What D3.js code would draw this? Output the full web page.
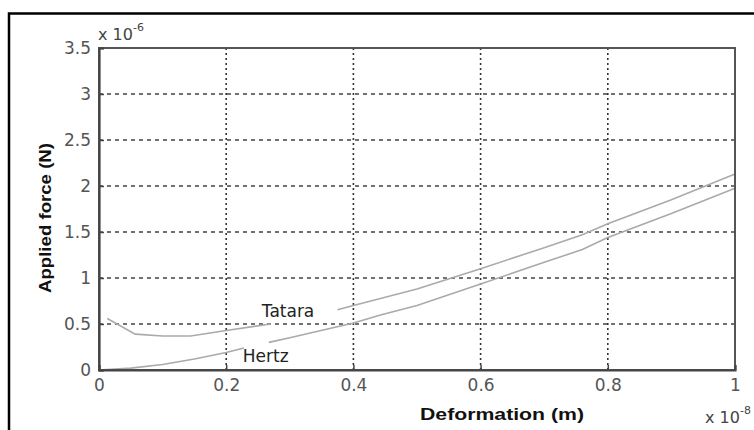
<!DOCTYPE html>
<html>
<head>
<meta charset="utf-8">
<script src="https://cdn.jsdelivr.net/npm/d3@7"></script>
<style>
  body { margin: 0; background: #fff; }
  svg { display: block; font-family: "DejaVu Sans", Arial, sans-serif; }
</style>
</head>
<body>
<div id="chart"></div>
<script>
// data (deformation in x 10^-8 m, force in x 10^-6 N)
var xTicks = [0, 0.2, 0.4, 0.6, 0.8, 1];
var yTicks = [0, 0.5, 1, 1.5, 2, 2.5, 3, 3.5];

// each curve is split in two pieces around its text label
var tataraA = [[0.013, 0.56], [0.057, 0.39], [0.10, 0.37], [0.144, 0.37], [0.2, 0.43], [0.27, 0.50]];
var tataraB = [[0.375, 0.655], [0.4, 0.70], [0.444, 0.78], [0.5, 0.88], [0.6, 1.10], [0.7, 1.33], [0.76, 1.47], [0.8, 1.59], [0.9, 1.85], [1.0, 2.13]];
var hertzA = [[0.0, 0.0], [0.05, 0.02], [0.1, 0.06], [0.15, 0.12], [0.2, 0.19], [0.228, 0.24]];
var hertzB = [[0.267, 0.30], [0.3, 0.35], [0.4, 0.51], [0.444, 0.60], [0.5, 0.70], [0.6, 0.935], [0.7, 1.17], [0.76, 1.31], [0.8, 1.44], [0.9, 1.70], [1.0, 1.975]];

var labels = [
  {name: "Tatara", at: [0.256, 0.575]},
  {name: "Hertz", at: [0.226, 0.085]}
];

var W = 754, H = 430;
var margin = {top: 48, right: 18, bottom: 60, left: 99},
    width = 735 - margin.left,
    height = 370 - margin.top;

var svg = d3.select("#chart").append("svg")
    .attr("width", W)
    .attr("height", H);

// outer frame (only top and left edges are visible)
svg.append("path")
    .attr("d", "M9,430 V13.5 H754")
    .attr("fill", "none")
    .attr("stroke", "#000")
    .attr("stroke-width", 2.5);

var g = svg.append("g")
    .attr("transform", "translate(" + margin.left + "," + margin.top + ")");

var x = d3.scaleLinear().domain([0, 1]).range([0, width]);
var y = d3.scaleLinear().domain([0, 3.5]).range([height, 0]);

// grid
g.selectAll(".hgrid")
    .data(yTicks.slice(1, -1))
  .enter().append("line")
    .attr("x1", 0).attr("x2", width)
    .attr("y1", function(d) { return y(d); })
    .attr("y2", function(d) { return y(d); })
    .attr("stroke", "#444")
    .attr("stroke-width", 1.4)
    .attr("stroke-dasharray", "4,4");

g.selectAll(".vgrid")
    .data(xTicks.slice(1, -1))
  .enter().append("line")
    .attr("y1", 0).attr("y2", height)
    .attr("x1", function(d) { return x(d); })
    .attr("x2", function(d) { return x(d); })
    .attr("stroke", "#333")
    .attr("stroke-width", 1.6)
    .attr("stroke-dasharray", "2,3");

// curves
var line = d3.line()
    .x(function(d) { return x(d[0]); })
    .y(function(d) { return y(d[1]); });

[tataraA, tataraB, hertzA, hertzB].forEach(function(s) {
  g.append("path")
      .datum(s)
      .attr("d", line)
      .attr("fill", "none")
      .attr("stroke", "#aaa")
      .attr("stroke-width", 1.6);
});

g.selectAll(".clabel")
    .data(labels)
  .enter().append("text")
    .attr("x", function(d) { return x(d.at[0]); })
    .attr("y", function(d) { return y(d.at[1]); })
    .attr("fill", "#222")
    .style("font-size", "17px")
    .text(function(d) { return d.name; });

// axes box
g.append("rect")
    .attr("width", width)
    .attr("height", height)
    .attr("fill", "none")
    .attr("stroke", "#555")
    .attr("stroke-width", 2);

// axes with inward ticks
var xAxis = g.append("g")
    .attr("transform", "translate(0," + height + ")")
    .call(d3.axisBottom(x).tickValues(xTicks).tickSize(-5).tickPadding(9)
      .tickFormat(function(d) { return d; }));

var yAxis = g.append("g")
    .call(d3.axisLeft(y).tickValues(yTicks).tickSize(-5).tickPadding(8)
      .tickFormat(function(d) { return d; }));

[xAxis, yAxis].forEach(function(a) {
  a.select(".domain").attr("stroke", "#444").attr("stroke-width", 2.2);
  a.selectAll(".tick line").attr("stroke", "#444").attr("stroke-width", 1.5);
  a.selectAll(".tick text")
      .attr("fill", "#555")
      .style("font-size", "17px")
      .style("font-family", "'DejaVu Sans', Arial, sans-serif");
});

// exponent labels
function expo(px, py, p) {
  var t = svg.append("text")
      .attr("x", px).attr("y", py)
      .attr("fill", "#444")
      .style("font-size", "16px");
  t.append("tspan").text("x 10");
  t.append("tspan").attr("dy", -9).style("font-size", "11px").text(p);
}
expo(98, 40, "-6");
expo(705, 423, "-8");

// axis titles
svg.append("text")
    .attr("x", 502)
    .attr("y", 420)
    .attr("text-anchor", "middle")
    .attr("textLength", 164)
    .attr("lengthAdjust", "spacingAndGlyphs")
    .style("font-size", "17px")
    .style("font-weight", "bold")
    .style("font-family", "'Liberation Sans', Arial, sans-serif")
    .attr("fill", "#111")
    .text("Deformation (m)");

svg.append("text")
    .attr("transform", "translate(51,218) rotate(-90)")
    .attr("text-anchor", "middle")
    .attr("textLength", 150)
    .attr("lengthAdjust", "spacingAndGlyphs")
    .style("font-size", "17px")
    .style("font-weight", "bold")
    .style("font-family", "'Liberation Sans', Arial, sans-serif")
    .attr("fill", "#111")
    .text("Applied force (N)");
</script>
</body>
</html>
